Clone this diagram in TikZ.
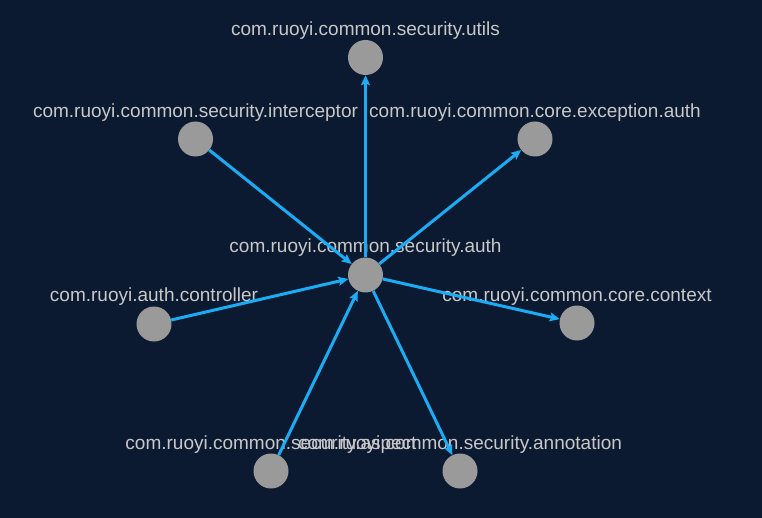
\documentclass[tikz,border=0pt]{standalone}
\usepackage{fontspec}
\setmainfont{Liberation Sans}
\usetikzlibrary{arrows.meta}
\definecolor{bgnavy}{HTML}{0B1A31}
\definecolor{edgeblue}{HTML}{1AADF5}
\definecolor{pkggray}{HTML}{9A9A9A}
\definecolor{labelgray}{HTML}{C8C8C8}
\begin{document}
\begin{tikzpicture}[x=1pt,y=-1pt,
  pkg/.style={circle,fill=pkggray,draw=none,minimum size=35pt,inner sep=0pt},
  pkglabel/.style={text=labelgray,font=\fontsize{19}{22}\selectfont,inner sep=0pt,anchor=center},
  dep/.style={draw=edgeblue,line width=3pt,-{Stealth[length=10pt,width=9pt,inset=2pt]}}]
  \fill[bgnavy] (0,0) rectangle (762,518);
  \useasboundingbox (0,0) rectangle (762,518);
  % package nodes
  \node[pkg] (auth) at (365.5,275) {};
  \node[pkg] (utils) at (365.5,57.5) {};
  \node[pkg] (interceptor) at (195.5,139) {};
  \node[pkg] (exception) at (535,139) {};
  \node[pkg] (controller) at (154,324) {};
  \node[pkg] (context) at (577,323) {};
  \node[pkg] (aspect) at (271,471) {};
  \node[pkg] (annotation) at (460,471) {};
  % labels above each package
  \node[pkglabel] (l-auth) at (365.5,248) {com.ruoyi.common.security.auth};
  \node[pkglabel] (l-utils) at (365.5,31) {com.ruoyi.common.security.utils};
  \node[pkglabel] (l-interceptor) at (195.5,112.5) {com.ruoyi.common.security.interceptor};
  \node[pkglabel] (l-exception) at (535,112.5) {com.ruoyi.common.core.exception.auth};
  \node[pkglabel] (l-controller) at (154,297) {com.ruoyi.auth.controller};
  \node[pkglabel] (l-context) at (577,296.5) {com.ruoyi.common.core.context};
  \node[pkglabel] (l-aspect) at (271,444.5) {com.ruoyi.common.security.aspect};
  \node[pkglabel] (l-annotation) at (460,444.5) {com.ruoyi.common.security.annotation};
  % dependencies
  \draw[dep] (interceptor) -- (auth);
  \draw[dep] (controller) -- (auth);
  \draw[dep] (aspect) -- (auth);
  \draw[dep] (auth) -- (utils);
  \draw[dep] (auth) -- (exception);
  \draw[dep] (auth) -- (context);
  \draw[dep] (auth) -- (annotation);
\end{tikzpicture}
\end{document}
